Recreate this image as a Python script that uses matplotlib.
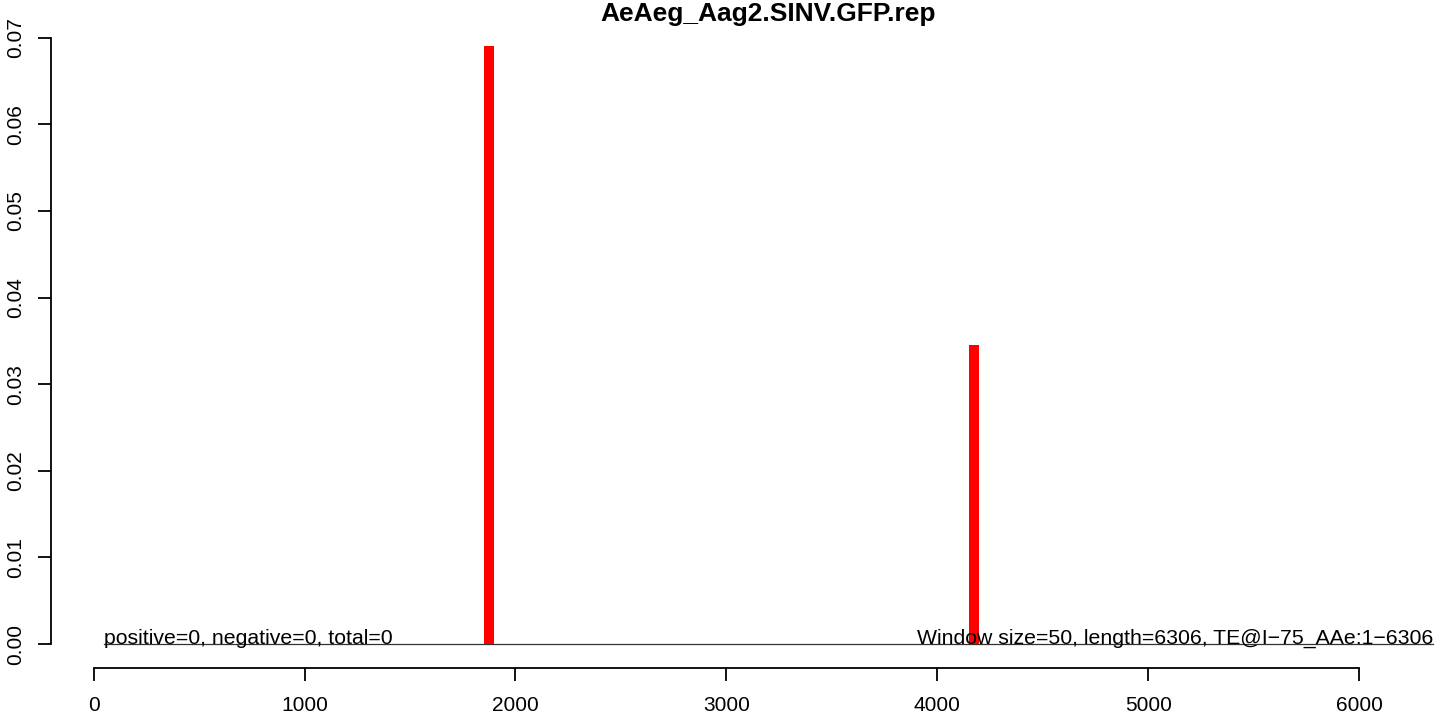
import matplotlib
matplotlib.use("Agg")
import matplotlib.pyplot as plt

# Data
title = "AeAeg_Aag2.SINV.GFP.rep"
bar_starts = [1850, 4150]
bar_values = [0.069, 0.0345]
window_size = 50
line_start = 50
line_end = 6350
left_note = "positive=0, negative=0, total=0"
right_note = "Window size=50, length=6306, TE@I\u221275_AAe:1\u22126306"
xticks = [0, 1000, 2000, 3000, 4000, 5000, 6000]
yticks = [0.00, 0.01, 0.02, 0.03, 0.04, 0.05, 0.06, 0.07]
ytick_labels = ["0.00", "0.01", "0.02", "0.03", "0.04", "0.05", "0.06", "0.07"]

plt.rcParams['font.family'] = ['Liberation Sans', 'DejaVu Sans']

W, H = 1444, 719
fig = plt.figure(figsize=(W / 100, H / 100), dpi=100)
left_px, right_px, top_px, bottom_px = 51, 1486, 22.5, 668
ax = fig.add_axes([left_px / W, (H - bottom_px) / H,
                   (right_px - left_px) / W, (bottom_px - top_px) / H])

ax.bar(bar_starts, bar_values, width=window_size, align='edge',
       color='#ff0000', edgecolor='none', zorder=3)
ax.plot([line_start, line_end], [0, 0], color='#333333', lw=0.9, zorder=2)

xr = line_end - line_start
ax.set_xlim(line_start - 0.04 * xr, line_end + 0.04 * xr)
ymax = max(bar_values)
ax.set_ylim(-0.04 * ymax, ymax * 1.04)

for s in ['top', 'right']:
    ax.spines[s].set_visible(False)
ax.spines['left'].set_bounds(yticks[0], yticks[-1])
ax.spines['bottom'].set_bounds(xticks[0], xticks[-1])
for s in ['left', 'bottom']:
    ax.spines[s].set_linewidth(1.3)

ax.set_xticks(xticks)
ax.set_xticklabels([str(t) for t in xticks])
ax.set_yticks(yticks)
ax.set_yticklabels(ytick_labels, rotation=90, va='center')
ax.tick_params(axis='both', length=9.5, width=1.3, labelsize=15, color='black')
ax.tick_params(axis='x', pad=11)
ax.tick_params(axis='y', pad=9)

ax.text(line_start, 0, left_note, ha='left', va='baseline', fontsize=15.3)
ax.text(line_end, 0, right_note, ha='right', va='baseline', fontsize=15.3)

fig.text((left_px + right_px) / 2 / W, 1 - 14 / H, title, ha='center', va='center',
         fontsize=19, fontweight='bold')

fig.savefig("out.png", dpi=100)
